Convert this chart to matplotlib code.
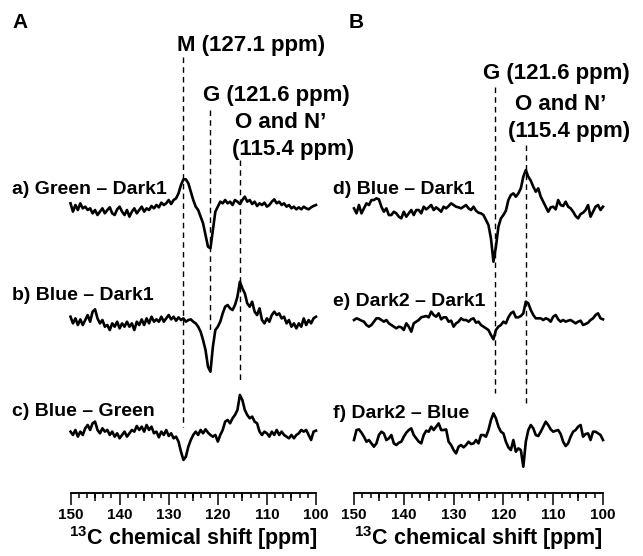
"""
13C difference spectra (panels A and B) with dashed guide lines at marker peaks.
"""

import numpy as np
import matplotlib.pyplot as plt
from matplotlib.ticker import MultipleLocator, NullLocator

plt.rcParams['font.family'] = ['Liberation Sans', 'DejaVu Sans']
plt.rcParams['font.weight'] = 'bold'
plt.rcParams['mathtext.fontset'] = 'custom'
plt.rcParams['mathtext.rm'] = 'Liberation Sans:bold'
plt.rcParams['mathtext.bf'] = 'Liberation Sans:bold'

ppm = np.arange(150, 99.75, -0.5)

# difference spectra, arbitrary intensity units
green_dark1 = [20, -5, 15, 0, 20, 5, 10, 0, 5, -10, 0, -15, -5, 5, -10, 0, 8, -10, -15, 2,
               10, -5, -15, 0, -20, -5, 5, -10, 0, 10, -5, 5, 0, 12, 5, 15, 8, 22, 15, 20,
               30, 18, 30, 35, 50, 75, 92, 92, 80, 55, 30, 10, 0, -20, -40, -75, -110, -115, -60, -5,
               10, 25, 20, 30, 20, 25, 15, 30, 25, 18, 30, 40, 25, 30, 18, 25, 12, 20, 15, 22,
               10, 15, 25, 32, 20, 25, 15, 20, 10, 15, 5, 10, 2, 8, 2, 10, 5, 2, 8, 12, 15]
blue_dark1_a = [15, -5, 10, -10, 7, -10, 5, 20, 0, 30, 37, 10, -5, 5, -15, -10, -25, -5, -15, 0,
                -20, -5, -15, 0, -15, -5, -25, 0, -10, 7, -10, 10, -5, 15, 0, 7, 0, 15, 0, 10,
                20, 7, 15, 3, 13, 5, 10, 0, 5, 7, 0, -5, -15, -30, -55, -85, -135, -150, -75, -25,
                -15, 0, 25, 45, 50, 40, 35, 50, 75, 120, 100, 85, 55, 45, 60, 30, 20, 40, 5, -5,
                10, 0, 20, 30, 20, 25, 10, 15, -5, 5, -15, -5, -20, -5, -15, 10, -10, 5, -5, 10, 15]
blue_green = [5, -5, 10, -10, 5, -5, 15, 25, 10, 30, 35, 10, 0, 15, 5, 10, -5, 5, -10, 0,
              -15, -5, 5, -10, 0, 10, 5, 22, 10, 20, 5, 25, 10, 20, 0, 5, -12, 5, -5, 10,
              -8, 0, -15, -10, -25, -55, -80, -70, -40, -20, -5, 5, -5, 10, 0, 12, 2, -5, -10, -5,
              -25, -5, 10, 35, 40, 30, 45, 55, 70, 115, 100, 70, 55, 45, 50, 35, 30, 5, -5, 5,
              0, -10, 5, -5, 10, -5, 5, -5, -10, -15, -5, -15, -5, 0, 10, 5, 10, -5, -20, 5, 8]
blue_dark1_b = [10, -5, 20, -5, 10, 25, 20, 35, 35, 40, 37, 15, 0, 10, -10, -10, 0, -5, -15, -20,
                0, -15, -5, 5, -10, 5, 5, -5, 15, 7, 13, 20, 5, 13, 7, 0, 15, 10, 17, 25,
                20, 15, 13, 10, 15, 20, 10, 5, 15, 3, -3, -5, -10, -25, -40, -80, -150, -105, -45, -20,
                -10, 3, 35, 50, 55, 45, 55, 70, 105, 125, 105, 93, 75, 60, 70, 45, 30, 15, 0, 13,
                15, 7, 35, 20, 17, 30, 15, 10, 0, -13, -20, -7, -3, 5, 20, -15, 0, 15, 20, 5, 15]
dark2_dark1 = [0, 5, 2, -2, -5, -15, -20, -15, -5, 5, 5, 0, -5, 0, -10, -15, -20, -25, -20, -22,
               -30, -10, -20, -35, -10, -5, 0, 8, 10, 12, 8, 25, 15, 10, 20, 2, 8, 8, -5, -2,
               -20, -10, -5, 5, 0, 0, -5, 2, 5, -8, -5, -15, -20, -25, -30, -45, -58, -30, -20, -15,
               -5, -10, 8, 20, 25, 8, 8, 12, 20, 55, 50, 30, 15, 5, 5, 5, 0, 5, 2, -5,
               10, 15, 2, -5, 0, -5, -2, 0, -5, -10, -5, -2, -15, -12, -8, 0, 5, 15, 20, 5, 2]
dark2_blue = [-10, 20, 22, 12, 0, -15, -10, -20, -30, -20, 5, 15, 10, -10, -5, 5, -20, -25, -18, -15,
              0, 12, 20, 25, 5, -5, -15, -20, 5, 18, 15, 30, 20, 30, 40, 20, 20, 22, -15, -25,
              -40, -50, -30, -25, -32, -25, -15, -22, -20, -10, -20, 5, 5, 0, 20, 50, 70, 55, 30, 15,
              10, -15, -32, -40, -10, -45, -35, -40, -90, -15, 20, 35, 25, 5, 2, 15, 30, 45, 35, 22,
              15, 18, 20, 8, -15, -28, -20, 0, 15, 20, 30, 35, 0, 8, 10, -10, 15, 15, 10, 5, -10]

labels_a = ['a) Green \u2013 Dark1', 'b) Blue \u2013 Dark1', 'c) Blue \u2013 Green']
labels_b = ['d) Blue \u2013 Dark1', 'e) Dark2 \u2013 Dark1', 'f) Dark2 \u2013 Blue']

W, H = 643, 556
fig = plt.figure(figsize=(W / 100, H / 100), dpi=100)

SPINE_Y = 493      # pixel row of the ppm axis line
SCALE = 1 / 3      # intensity units -> pixels


def make_panel(left_px, right_px):
    ax = fig.add_axes([left_px / W, 1 - SPINE_Y / H, (right_px - left_px) / W, SPINE_Y / H])
    ax.set_xlim(150, 100)
    ax.set_ylim(SPINE_Y, 0)
    ax.patch.set_alpha(0)
    for side in ['top', 'left', 'right']:
        ax.spines[side].set_visible(False)
    ax.spines['bottom'].set_linewidth(1.1)
    ax.set_yticks([])
    ax.xaxis.set_major_locator(MultipleLocator(10))
    ax.xaxis.set_minor_locator(MultipleLocator(5 / 3))
    ax.tick_params(which='major', length=8.6, width=1.1, pad=2.5, labelsize=11)
    ax.tick_params(which='minor', length=3.6, width=1.1)
    # medium ticks at the 5 ppm marks
    sec = ax.secondary_xaxis('bottom')
    sec.set_xticks([145, 135, 125, 115, 105])
    sec.xaxis.set_minor_locator(NullLocator())
    sec.tick_params(length=5.8, width=1.1, labelbottom=False)
    sec.spines['bottom'].set_linewidth(1.1)
    ax.set_xlabel(r'$^{13}$C chemical shift [ppm]', fontsize=15.5, fontweight='bold', labelpad=1)
    return ax


def draw_traces(ax, traces, offsets):
    for vals, off in zip(traces, offsets):
        ax.plot(ppm, off - np.asarray(vals) * SCALE, color='black', lw=1.9,
                solid_joinstyle='round', clip_on=False)


dash = (0, (4, 3))

# ---- panel A
axA = make_panel(70.5, 316)
draw_traces(axA, [green_dark1, blue_dark1_a, blue_green], [210, 321.7, 433.3])
axA.vlines([127.1], 57, 427, colors='black', lw=1, linestyles=dash)
axA.vlines([121.6], 110, 333, colors='black', lw=1, linestyles=dash)
axA.vlines([115.4], 160, 380, colors='black', lw=1, linestyles=dash)
axA.text(128.3, 46, 'M (127.1 ppm)', fontsize=16, va='center', ha='left', clip_on=False)
axA.text(123.0, 96, 'G (121.6 ppm)', fontsize=16, va='center', ha='left', clip_on=False)
axA.text(116.5, 123, 'O and N\u2019', fontsize=16, va='center', ha='left', clip_on=False)
axA.text(117.1, 150, '(115.4 ppm)', fontsize=16, va='center', ha='left', clip_on=False)

# ---- panel B
axB = make_panel(354, 603)
draw_traces(axB, [blue_dark1_b, dark2_dark1, dark2_blue], [211.7, 320, 436.7])
axB.vlines([121.6], 87, 393, colors='black', lw=1, linestyles=dash)
axB.vlines([115.4], 145, 403, colors='black', lw=1, linestyles=dash)
axB.text(124.0, 74, 'G (121.6 ppm)', fontsize=16, va='center', ha='left', clip_on=False)
axB.text(117.7, 104, 'O and N\u2019', fontsize=16, va='center', ha='left', clip_on=False)
axB.text(119.1, 131, '(115.4 ppm)', fontsize=16, va='center', ha='left', clip_on=False)

# trace labels and panel letters (figure pixel positions)
for lab, y in zip(labels_a, [190, 295, 412]):
    fig.text(12 / W, 1 - y / H, lab, fontsize=14, va='center', ha='left')
for lab, y in zip(labels_b, [190, 302, 413]):
    fig.text(333 / W, 1 - y / H, lab, fontsize=14, va='center', ha='left')
fig.text(12 / W, 1 - 23 / H, 'A', fontsize=15, va='center', ha='left')
fig.text(349 / W, 1 - 23 / H, 'B', fontsize=15, va='center', ha='left')

fig.savefig('out.png', dpi=100)
